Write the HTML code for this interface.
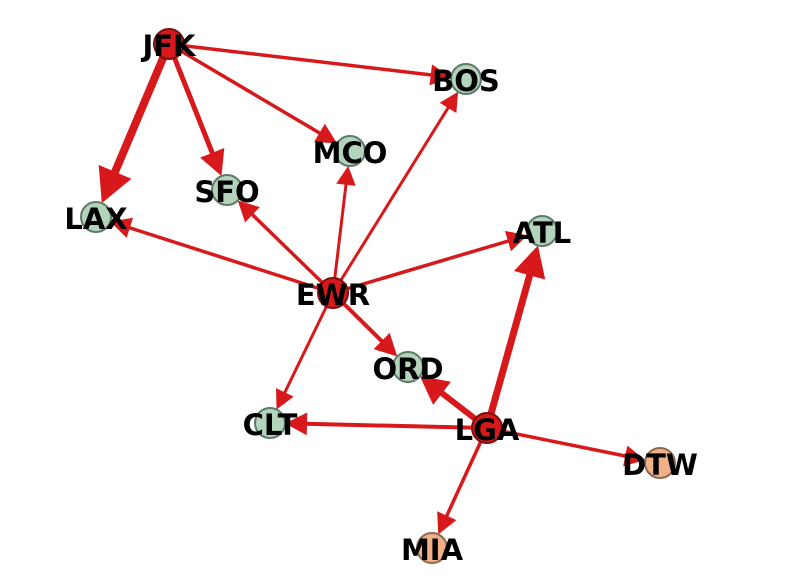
<!DOCTYPE html>
<html><head><meta charset="utf-8"><style>
html,body{margin:0;padding:0;background:#fff;width:808px;height:587px;overflow:hidden}
text{font-family:"DejaVu Sans","Liberation Sans",sans-serif;font-weight:bold;font-size:29px;fill:#000}
</style></head><body>
<svg id="s" width="808" height="587" viewBox="0 0 808 587" xmlns="http://www.w3.org/2000/svg">
<g id="edges"></g><g id="nodes"></g><g id="labels"></g>
</svg>
<script>
var N={JFK:[169,44,'r'],BOS:[466,79,'g'],MCO:[350,151,'g'],SFO:[227,190,'g'],LAX:[96,217,'g'],ATL:[542,231,'g'],EWR:[333,293,'r'],ORD:[408,367,'g'],CLT:[270,423,'g'],LGA:[487,428,'r'],DTW:[660,463,'o'],MIA:[432,548,'o']};
var E=[['JFK','LAX',8],['JFK','SFO',5],['JFK','MCO',3.5],['JFK','BOS',3.5],['EWR','LAX',3.5],['EWR','SFO',3.5],['EWR','MCO',3],['EWR','BOS',3],['EWR','ATL',3.5],['EWR','ORD',4],['EWR','CLT',3],['LGA','ATL',7],['LGA','ORD',6],['LGA','CLT',4],['LGA','DTW',3.5],['LGA','MIA',3.5]];
var ns='http://www.w3.org/2000/svg',eg=document.getElementById('edges'),ng=document.getElementById('nodes'),lg=document.getElementById('labels');
function mk(t,a,p){var e=document.createElementNS(ns,t);for(var k in a)e.setAttribute(k,a[k]);p.appendChild(e);return e;}
E.forEach(function(e){var a=N[e[0]],b=N[e[1]],w=e[2];var dx=b[0]-a[0],dy=b[1]-a[1],L=Math.hypot(dx,dy),ux=dx/L,uy=dy/L;
var tx=b[0]-ux*15,ty=b[1]-uy*15,hl=3*w+10,hw=1.6*w+5;var bx=tx-ux*hl,by=ty-uy*hl;
mk('line',{x1:a[0],y1:a[1],x2:bx+ux*2,y2:by+uy*2,stroke:'#d7191c','stroke-width':w},eg);
mk('polygon',{points:tx+','+ty+' '+(bx-uy*hw)+','+(by+ux*hw)+' '+(bx+uy*hw)+','+(by-ux*hw),fill:'#d7191c'},eg);});
var C={r:['#d7191c','#7a1010'],g:['#b3d3bc','#5f7a66'],o:['#f1b088','#8a6a52']};
for(var k in N){var n=N[k];mk('circle',{cx:n[0],cy:n[1],r:15,fill:C[n[2]][0],stroke:C[n[2]][1],'stroke-width':2},ng);
var t=mk('text',{x:n[0],y:n[1]+12,'text-anchor':'middle'},lg);t.textContent=k;}
</script>
</body></html>
